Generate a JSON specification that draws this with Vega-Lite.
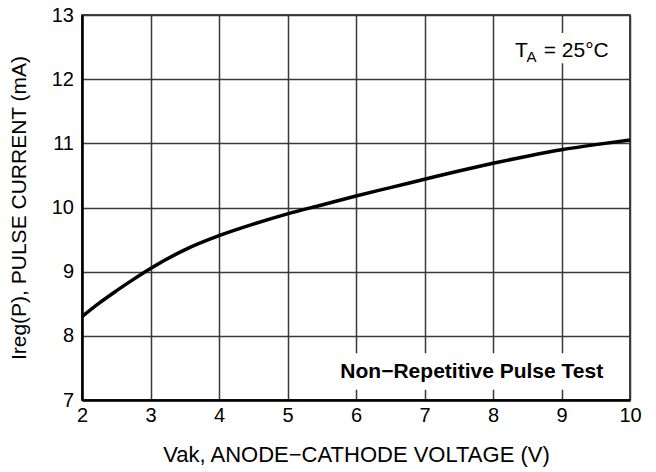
{
  "$schema": "https://vega.github.io/schema/vega-lite/v6.json",
  "autosize": "none",
  "width": 548,
  "height": 385,
  "padding": {"left": 82, "top": 15, "right": 26, "bottom": 72},
  "background": "white",
  "config": {
    "font": "Liberation Sans",
    "view": {"stroke": "black", "strokeWidth": 1.5},
    "axis": {
      "domainColor": "black",
      "domainWidth": 2.5,
      "ticks": false,
      "labelFontSize": 20,
      "labelColor": "black",
      "labelFont": "Liberation Sans",
      "titleFont": "Liberation Sans",
      "titleFontWeight": "normal",
      "titleColor": "black",
      "grid": true,
      "gridColor": "#3a3a3a",
      "gridWidth": 1.5,
      "gridOpacity": 1
    }
  },
  "data": {
    "values": [
      {"v": 2, "i": 8.3},
      {"v": 2.25, "i": 8.51},
      {"v": 2.5, "i": 8.7},
      {"v": 2.75, "i": 8.88},
      {"v": 3, "i": 9.05},
      {"v": 3.5, "i": 9.34},
      {"v": 4, "i": 9.56},
      {"v": 4.5, "i": 9.74},
      {"v": 5, "i": 9.9},
      {"v": 5.5, "i": 10.04},
      {"v": 6, "i": 10.18},
      {"v": 6.5, "i": 10.31},
      {"v": 7, "i": 10.44},
      {"v": 7.5, "i": 10.57},
      {"v": 8, "i": 10.69},
      {"v": 8.5, "i": 10.8},
      {"v": 9, "i": 10.9},
      {"v": 9.5, "i": 10.98},
      {"v": 10, "i": 11.05}
    ]
  },
  "encoding": {
    "x": {
      "type": "quantitative",
      "scale": {"domain": [2, 10], "nice": false, "zero": false},
      "axis": {"title": "Vak, ANODE\u2212CATHODE VOLTAGE (V)", "titleFontSize": 22, "values": [2, 3, 4, 5, 6, 7, 8, 9, 10], "labelPadding": 5, "titlePadding": 19, "labelFlush": false}
    },
    "y": {
      "type": "quantitative",
      "scale": {"domain": [7, 13], "nice": false, "zero": false},
      "axis": {"title": "Ireg(P), PULSE CURRENT (mA)", "titleFontSize": 21, "values": [7, 8, 9, 10, 11, 12, 13], "labelPadding": 8.5, "titlePadding": 22, "labelFlush": false}
    }
  },
  "layer": [
    {
      "data": {"values": [{}]},
      "mark": {"type": "rect", "fill": "white"},
      "encoding": {
        "x": {"datum": 5.55, "type": "quantitative"},
        "x2": {"datum": 9.92},
        "y": {"datum": 7.16, "type": "quantitative"},
        "y2": {"datum": 7.73}
      }
    },
    {
      "data": {"values": [{}]},
      "mark": {"type": "rect", "fill": "white"},
      "encoding": {
        "x": {"datum": 8.2, "type": "quantitative"},
        "x2": {"datum": 9.8},
        "y": {"datum": 12.25, "type": "quantitative"},
        "y2": {"datum": 12.72}
      }
    },
    {
      "mark": {"type": "line", "color": "black", "strokeWidth": 3.5, "interpolate": "monotone"},
      "encoding": {
        "x": {"field": "v", "type": "quantitative"},
        "y": {"field": "i", "type": "quantitative"}
      }
    },
    {
      "data": {"values": [{"t": "Non\u2212Repetitive Pulse Test"}]},
      "mark": {"type": "text", "fontSize": 21, "fontWeight": "bold", "align": "center", "baseline": "middle", "color": "black"},
      "encoding": {
        "x": {"datum": 7.69, "type": "quantitative"},
        "y": {"datum": 7.44, "type": "quantitative"},
        "text": {"field": "t"}
      }
    },
    {
      "data": {"values": [{"t": "T"}]},
      "mark": {"type": "text", "fontSize": 21, "align": "left", "baseline": "alphabetic", "color": "black"},
      "encoding": {
        "x": {"datum": 8.32, "type": "quantitative"},
        "y": {"datum": 12.35, "type": "quantitative"},
        "text": {"field": "t"}
      }
    },
    {
      "data": {"values": [{"t": "A"}]},
      "mark": {"type": "text", "fontSize": 15, "align": "left", "baseline": "alphabetic", "color": "black"},
      "encoding": {
        "x": {"datum": 8.49, "type": "quantitative"},
        "y": {"datum": 12.27, "type": "quantitative"},
        "text": {"field": "t"}
      }
    },
    {
      "data": {"values": [{"t": "= 25\u00b0C"}]},
      "mark": {"type": "text", "fontSize": 21, "align": "left", "baseline": "alphabetic", "color": "black"},
      "encoding": {
        "x": {"datum": 8.74, "type": "quantitative"},
        "y": {"datum": 12.35, "type": "quantitative"},
        "text": {"field": "t"}
      }
    }
  ]
}
